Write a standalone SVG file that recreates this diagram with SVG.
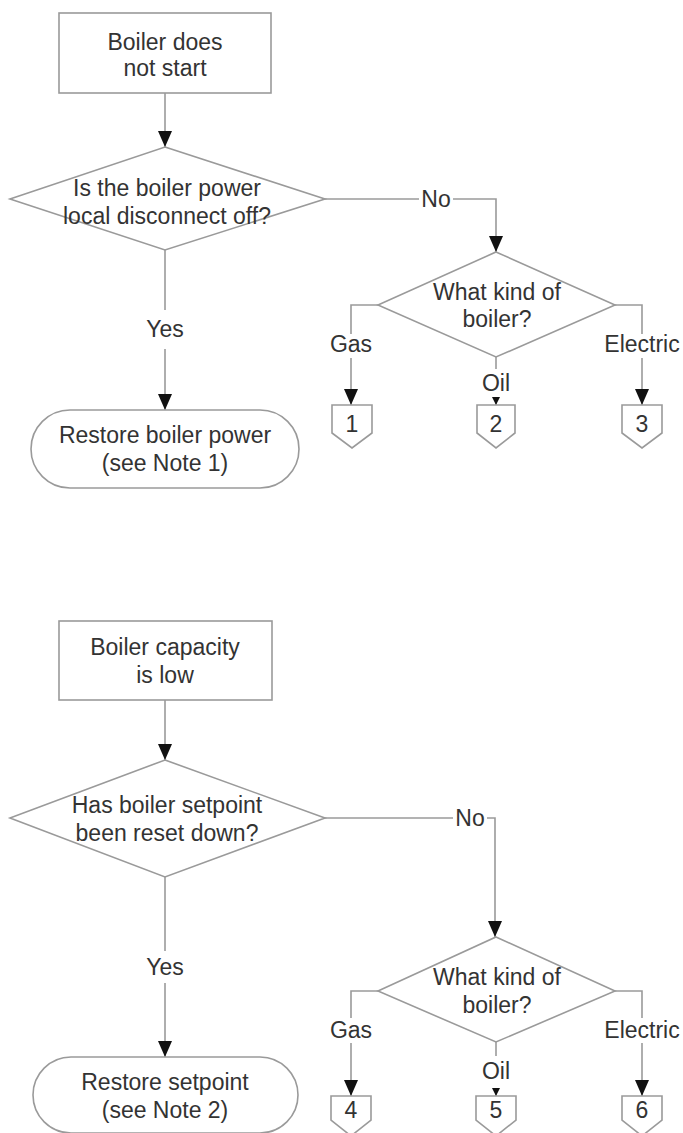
<svg xmlns="http://www.w3.org/2000/svg" width="683" height="1133" viewBox="0 0 683 1133">
<style>
.shape{fill:#fff;stroke:#9a9a9a;stroke-width:1.6}
.line{fill:none;stroke:#9a9a9a;stroke-width:1.6}
text{font-family:"Liberation Sans",Arial,sans-serif;font-size:23px;fill:#333;text-anchor:middle;dominant-baseline:central}
</style>
<defs>
<marker id="arr" markerUnits="userSpaceOnUse" markerWidth="16" markerHeight="14" viewBox="0 0 16 14" refX="16" refY="7" orient="auto"><path d="M0,0 L16,7 L0,14 z" fill="#111"/></marker>
<marker id="arrs" markerUnits="userSpaceOnUse" markerWidth="8" markerHeight="8" viewBox="0 0 8 8" refX="8" refY="4" orient="auto"><path d="M0,0 L8,4 L0,8 z" fill="#111"/></marker>
</defs>
<rect width="683" height="1133" fill="#fff"/>

<g id="connectors">
<path class="line" d="M165,93 V147" marker-end="url(#arr)"/>
<path class="line" d="M165,250 V310"/>
<path class="line" d="M165,349 V410" marker-end="url(#arr)"/>
<path class="line" d="M325,199 H419"/>
<path class="line" d="M453,199 H496 V252" marker-end="url(#arr)"/>
<path class="line" d="M378,305 H351 V334"/>
<path class="line" d="M351,358 V405" marker-end="url(#arr)"/>
<path class="line" d="M496,357 V369"/>
<path class="line" d="M496,397 V405" marker-end="url(#arrs)"/>
<path class="line" d="M615,305 H642 V334"/>
<path class="line" d="M642,358 V405" marker-end="url(#arr)"/>

<path class="line" d="M165,700 V760" marker-end="url(#arr)"/>
<path class="line" d="M165,877 V951"/>
<path class="line" d="M165,983 V1057" marker-end="url(#arr)"/>
<path class="line" d="M325,818 H453"/>
<path class="line" d="M487,818 H495 V937" marker-end="url(#arr)"/>
<path class="line" d="M378,991 H351 V1018"/>
<path class="line" d="M351,1043 V1096" marker-end="url(#arr)"/>
<path class="line" d="M496,1042 V1056"/>
<path class="line" d="M496,1088 V1096" marker-end="url(#arrs)"/>
<path class="line" d="M615,991 H642 V1018"/>
<path class="line" d="M642,1043 V1096" marker-end="url(#arr)"/>

<text x="436" y="199">No</text>
<text x="165" y="329">Yes</text>
<text x="351" y="344">Gas</text>
<text x="496" y="383">Oil</text>
<text x="642" y="344">Electric</text>
<text x="470" y="818">No</text>
<text x="165" y="967">Yes</text>
<text x="351" y="1030">Gas</text>
<text x="496" y="1071">Oil</text>
<text x="642" y="1030">Electric</text>
</g>

<g id="start1">
<rect class="shape" x="59" y="13" width="212" height="80"/>
<text x="165" y="42">Boiler does</text>
<text x="165" y="68">not start</text>
</g>
<g id="decision1">
<polygon class="shape" points="165,147 325,199 165,250 10,199"/>
<text x="167" y="188">Is the boiler power</text>
<text x="167" y="216">local disconnect off?</text>
</g>
<g id="end1">
<rect class="shape" x="31" y="410" width="268" height="78" rx="39" ry="39"/>
<text x="165" y="435">Restore boiler power</text>
<text x="165" y="463">(see Note 1)</text>
</g>
<g id="decision2">
<polygon class="shape" points="496,252 615,305 496,357 378,305"/>
<text x="497" y="292">What kind of</text>
<text x="497" y="319">boiler?</text>
</g>
<g id="off1">
<polygon class="shape" points="332,405 372,405 372,433 352,448 332,433"/>
<text x="352" y="424">1</text>
</g>
<g id="off2">
<polygon class="shape" points="477,405 515,405 515,433 496,448 477,433"/>
<text x="496" y="424">2</text>
</g>
<g id="off3">
<polygon class="shape" points="622,405 662,405 662,433 642,448 622,433"/>
<text x="642" y="424">3</text>
</g>

<g id="start2">
<rect class="shape" x="59" y="621" width="213" height="79"/>
<text x="165" y="647">Boiler capacity</text>
<text x="165" y="675">is low</text>
</g>
<g id="decision3">
<polygon class="shape" points="165,760 325,818 165,877 10,818"/>
<text x="167" y="805">Has boiler setpoint</text>
<text x="167" y="833">been reset down?</text>
</g>
<g id="end2">
<rect class="shape" x="33" y="1057" width="265" height="76" rx="38" ry="38"/>
<text x="165" y="1082">Restore setpoint</text>
<text x="165" y="1110">(see Note 2)</text>
</g>
<g id="decision4">
<polygon class="shape" points="496,937 615,991 496,1042 378,991"/>
<text x="497" y="977">What kind of</text>
<text x="497" y="1005">boiler?</text>
</g>
<g id="off4">
<polygon class="shape" points="331,1096 371,1096 371,1120 351,1136 331,1120"/>
<text x="351" y="1110">4</text>
</g>
<g id="off5">
<polygon class="shape" points="476,1096 516,1096 516,1120 496,1136 476,1120"/>
<text x="496" y="1110">5</text>
</g>
<g id="off6">
<polygon class="shape" points="622,1096 662,1096 662,1120 642,1136 622,1120"/>
<text x="642" y="1110">6</text>
</g>
</svg>
